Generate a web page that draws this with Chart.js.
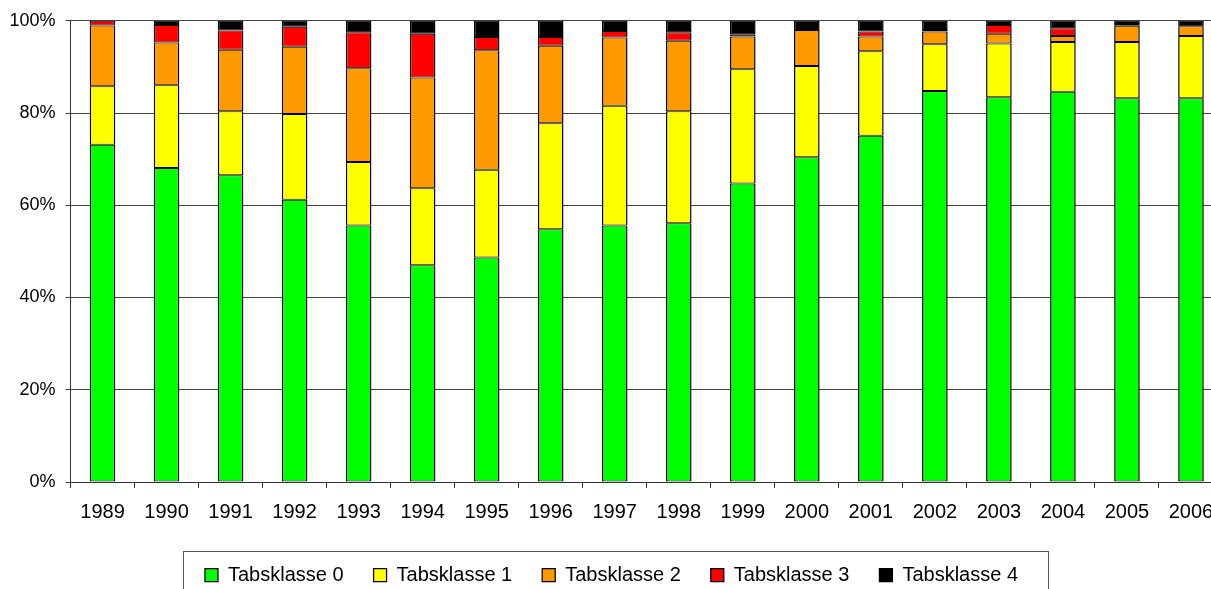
<!DOCTYPE html>
<html>
<head>
<meta charset="utf-8">
<title>Tabsklasse 1989-2006</title>
<script src="https://cdn.jsdelivr.net/npm/chart.js@4.4.0/dist/chart.umd.min.js"></script>
<style>
    html, body { margin: 0; padding: 0; background: #fff; overflow: hidden; }
    #wrap { position: relative; width: 1231px; height: 595px; }
</style>
</head>
<body>
<div id="wrap"><canvas id="chart"></canvas></div>
<script>
//data (percent of each year)
const years = ["1989", "1990", "1991", "1992", "1993", "1994", "1995", "1996", "1997",
    "1998", "1999", "2000", "2001", "2002", "2003", "2004", "2005", "2006"];
const klasse0 = [73.1, 68.1, 66.5, 61.2, 55.6, 47.0, 48.7, 54.8, 55.6, 56.1, 64.7, 70.4, 75.1, 84.8, 83.4, 84.6, 83.2, 83.2];
const klasse1 = [12.7, 17.9, 13.9, 18.6, 13.8, 16.7, 19.0, 23.0, 26.0, 24.3, 24.8, 19.8, 18.3, 10.1, 11.7, 10.8, 12.2, 13.5];
const klasse2 = [13.2, 9.3, 13.3, 14.6, 20.3, 24.0, 25.9, 16.8, 14.8, 15.3, 7.1, 7.8, 3.2, 2.8, 2.1, 1.3, 3.5, 2.1];
const klasse3 = [1.0, 3.8, 4.2, 4.3, 7.8, 9.5, 2.9, 1.9, 1.4, 1.8, 0.5, 0.0, 1.1, 0.3, 1.9, 1.7, 0.4, 0.0];
const klasse4 = [0.0, 0.9, 2.1, 1.3, 2.5, 2.8, 3.5, 3.5, 2.2, 2.5, 2.9, 2.0, 2.3, 2.0, 0.9, 1.6, 0.7, 1.2];
const yTicks = [0, 20, 40, 60, 80, 100];

const names = ["Tabsklasse 0", "Tabsklasse 1", "Tabsklasse 2", "Tabsklasse 3", "Tabsklasse 4"];
const colours = ["#00ff00", "#ffff00", "#ff9900", "#ff0000", "#000000"];
const series = [klasse0, klasse1, klasse2, klasse3, klasse4];

const FONT = "'Liberation Sans', Arial, sans-serif";

// draws the frame round the legend, like the excel one
const legendFrame = {
    id: "legendFrame",
    afterDraw(chart) {
        let boxes = chart.legend.legendHitBoxes;
        if (!boxes || !boxes.length) return;
        let first = boxes[0];
        let last = boxes[boxes.length - 1];
        let ctx = chart.ctx;
        let x1 = Math.round(first.left - 22) + 0.5;
        let x2 = Math.round(last.left + last.width + 30) + 0.5;
        let y1 = Math.round(first.top - 14) + 0.5;
        ctx.save();
        ctx.strokeStyle = "#555";
        ctx.lineWidth = 1;
        ctx.strokeRect(x1, y1, x2 - x1, 70);
        ctx.restore();
    }
};

document.addEventListener("DOMContentLoaded", () => {
    let datasets = series.map((vals, i) => ({
        label: names[i],
        data: vals,
        backgroundColor: colours[i],
        borderColor: "#000",
        // 1px top+bottom so two segments together give a 2px line
        borderWidth: { top: 1, bottom: 1, left: 1.5, right: 1.5 },
        borderSkipped: false,
        inflateAmount: 0,
        categoryPercentage: 1.0,
        barPercentage: 0.4
    }));

    let context = document.getElementById("chart").getContext("2d");
    new Chart(context, {
        type: "bar",
        data: { labels: years, datasets: datasets },
        plugins: [legendFrame],
        options: {
            responsive: true,
            maintainAspectRatio: false,
            animation: false,
            layout: { padding: { top: 19, right: 8, left: 0, bottom: 0 } },
            plugins: {
                tooltip: { enabled: false },
                legend: {
                    position: "bottom",
                    labels: {
                        boxWidth: 13,
                        boxHeight: 13,
                        padding: 30,
                        color: "#000",
                        font: { family: FONT, size: 20 }
                    }
                }
            },
            scales: {
                x: {
                    stacked: true,
                    offset: true,
                    grid: { offset: true, drawOnChartArea: false, tickLength: 6, color: "#333" },
                    border: { color: "#333", width: 1 },
                    ticks: { color: "#000", padding: 12, maxRotation: 0, autoSkip: false,
                        font: { family: FONT, size: 20 } },
                    afterFit: (scale) => { scale.height = 53; }
                },
                y: {
                    stacked: true,
                    min: 0,
                    max: 100,
                    afterBuildTicks: (scale) => { scale.ticks = yTicks.map(v => ({ value: v })); },
                    grid: { color: "#444", tickLength: 5, lineWidth: 1 },
                    border: { color: "#333", width: 1 },
                    ticks: { color: "#000", padding: 10, font: { family: FONT, size: 18 },
                        callback: (v) => v + "%" },
                    afterFit: (scale) => { scale.width = 70.5; }
                }
            }
        }
    });
});
</script>
</body>
</html>
